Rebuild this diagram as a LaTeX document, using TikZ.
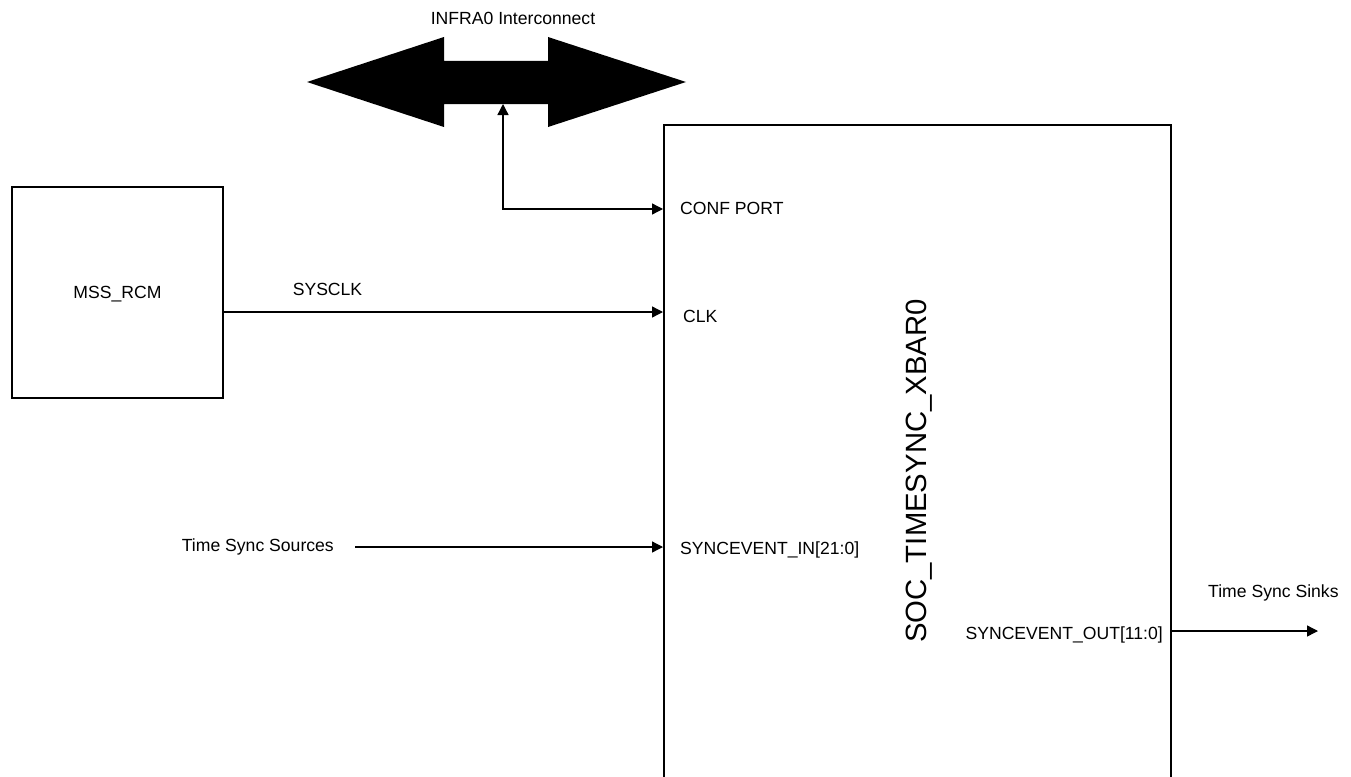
\documentclass[tikz,border=0pt]{standalone}
\usepackage{fontspec}
\setmainfont{Liberation Sans}
\usetikzlibrary{arrows.meta}
\begin{document}
\begin{tikzpicture}[x=1pt,y=-1pt,
  blockbox/.style={draw,line width=2.4pt,inner sep=0pt},
  lbl/.style={inner sep=0pt,font=\fontsize{17.6}{20}\selectfont},
  conn/.style={line width=1.3pt,-{Triangle[length=11pt,width=11pt]}},
  conn2/.style={line width=1.3pt,{Triangle[length=11pt,width=11pt]}-{Triangle[length=11pt,width=11pt]}}]
\useasboundingbox (0,0) rectangle (1351,776);
% interconnect double arrow
\fill (307,82) -- (444,37) -- (444,61) -- (548,61) -- (548,37) -- (686,82)
  -- (548,127) -- (548,104) -- (444,104) -- (444,127) -- cycle;
\coordinate (infra) at (503,104);
\node[lbl,anchor=base] (infralbl) at (513,25) {INFRA0 Interconnect};
% blocks
\node[blockbox,minimum width=211pt,minimum height=211pt] (mss) at (117.5,292.5) {};
\node[lbl,anchor=base] (msslbl) at (117.5,298.3) {MSS\_RCM};
\node[blockbox,anchor=north west,minimum width=507pt,minimum height=720pt] (xbar) at (663,124) {};
\node[lbl,rotate=90,font=\fontsize{29.3}{32}\selectfont] (xbarlbl) at (919,471) {SOC\_TIMESYNC\_XBAR0};
% port coordinates
\coordinate (pconf) at (663,209);
\coordinate (pclk) at (663,312);
\coordinate (pin) at (663,547);
\coordinate (pout) at (1170,631);
\coordinate (sinkend) at (1318,631);
% port labels
\node[lbl,anchor=base west] (conflbl) at (680,214.3) {CONF PORT};
\node[lbl,anchor=base west] (clklbl) at (683,322.3) {CLK};
\node[lbl,anchor=base west] (inlbl) at (680,554.5) {SYNCEVENT\_IN[21:0]};
\node[lbl,anchor=base east] (outlbl) at (1163,639.3) {SYNCEVENT\_OUT[11:0]};
\node[lbl,anchor=base] (sysclklbl) at (327.5,295.7) {SYSCLK};
\node[lbl,anchor=base west] (sinklbl) at (1208,597.3) {Time Sync Sinks};
\node[lbl,anchor=east,inner xsep=21pt] (src) at (355,547) {Time Sync Sources};
% connectors
\draw[conn2] (infra) |- (pconf);
\draw[conn] (mss.east |- pclk) -- (pclk);
\draw[conn] (src.east) -- (pin);
\draw[conn] (pout) -- (sinkend);
\end{tikzpicture}
\end{document}
